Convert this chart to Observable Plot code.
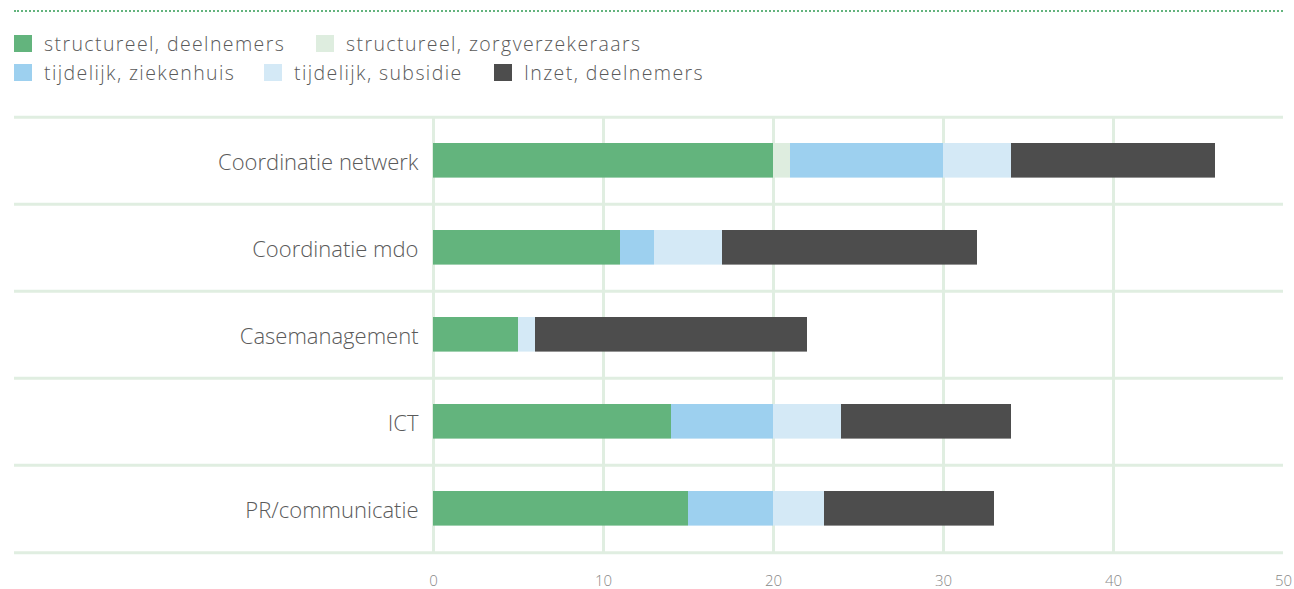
<!DOCTYPE html>
<html>
<head>
<meta charset="utf-8">
<script src="https://cdn.jsdelivr.net/npm/d3@7"></script>
<script src="https://cdn.jsdelivr.net/npm/@observablehq/plot@0.6"></script>
<style>
  html, body { margin: 0; padding: 0; background: #fff; }
  body { width: 1294px; height: 589px; position: relative; overflow: hidden; font-family: "Open Sans", Lato, sans-serif; font-weight: 300; }
  #dots { position: absolute; left: 14px; top: 10px; width: 1269px; height: 0; border-top: 2px dotted #63b47d; }
  .lg { position: absolute; display: flex; align-items: center; font-size: 19.5px; letter-spacing: 1.4px; color: #5a5a5a; white-space: nowrap; }
  .sw { width: 18px; height: 17px; margin-right: 12px; }
  #chart { position: absolute; left: 0; top: 100px; }
</style>
</head>
<body>
<div id="dots"></div>
<div id="legend"></div>
<div id="chart"></div>
<script>
const categories = ["Coordinatie netwerk", "Coordinatie mdo", "Casemanagement", "ICT", "PR/communicatie"];
const series = ["structureel, deelnemers", "structureel, zorgverzekeraars", "tijdelijk, ziekenhuis", "tijdelijk, subsidie", "Inzet, deelnemers"];
const colors = ["#63b47d", "#deeddf", "#9dd0ef", "#d4e9f6", "#4d4d4d"];
const structDeelnemers = [20, 11, 5, 14, 15];
const structZorgverzekeraars = [1, 0, 0, 0, 0];
const tijdelijkZiekenhuis = [9, 2, 0, 6, 5];
const tijdelijkSubsidie = [4, 4, 1, 4, 3];
const inzetDeelnemers = [12, 15, 16, 10, 10];
const xTicks = [0, 10, 20, 30, 40, 50];
const gridTicks = [0, 10, 20, 30, 40];

const seriesValues = [structDeelnemers, structZorgverzekeraars, tijdelijkZiekenhuis, tijdelijkSubsidie, inzetDeelnemers];
const data = [];
categories.forEach((c, i) => {
  series.forEach((s, j) => {
    data.push({category: c, series: s, value: seriesValues[j][i]});
  });
});

// legend
const legendPos = [
  {left: 14, top: 35}, {left: 316, top: 35},
  {left: 14, top: 64}, {left: 264, top: 64}, {left: 494, top: 64}
];
const legend = document.getElementById("legend");
series.forEach((s, j) => {
  const d = document.createElement("div");
  d.className = "lg";
  d.style.left = legendPos[j].left + "px";
  d.style.top = (legendPos[j].top - 2) + "px";
  d.style.height = "20px";
  const sw = document.createElement("span");
  sw.className = "sw";
  sw.style.background = colors[j];
  const t = document.createElement("span");
  t.textContent = s;
  d.appendChild(sw); d.appendChild(t);
  legend.appendChild(d);
});

const gridColor = "#e0eee1";
const H = 489;
const mTop = 16, mBottom = 36;
const band = (H - mTop - mBottom) / categories.length;

const chart = Plot.plot({
  width: 1294,
  height: H,
  marginTop: mTop,
  marginBottom: mBottom,
  marginLeft: 14,
  marginRight: 11,
  style: {fontFamily: "'Open Sans', Lato, sans-serif", background: "#fff"},
  x: {domain: [0, 50], range: [433, 1283]},
  y: {domain: categories, padding: 0, axis: null},
  color: {domain: series, range: colors},
  marks: [
    Plot.ruleX(gridTicks, {x: d => d, stroke: gridColor, strokeWidth: 3}),
    Plot.ruleY(categories, {y: d => d, dy: -band / 2, stroke: gridColor, strokeWidth: 3}),
    Plot.ruleY([categories[categories.length - 1]], {y: d => d, dy: band / 2, stroke: gridColor, strokeWidth: 3}),
    Plot.barX(data, Plot.stackX({x: "value", y: "category", fill: "series", insetTop: 26, insetBottom: 26.4})),
    Plot.text(categories, {y: d => d, x: 0, dx: -15, dy: 2, textAnchor: "end", fontSize: 22, fill: "#5a5a5a", fontWeight: 300, style: "letter-spacing:1.8px"}),
    Plot.axisX({ticks: xTicks, tickSize: 0, tickPadding: 22, fontSize: 15, color: "#888", fontWeight: 300, label: null})
  ]
});
document.getElementById("chart").appendChild(chart);
</script>
</body>
</html>
